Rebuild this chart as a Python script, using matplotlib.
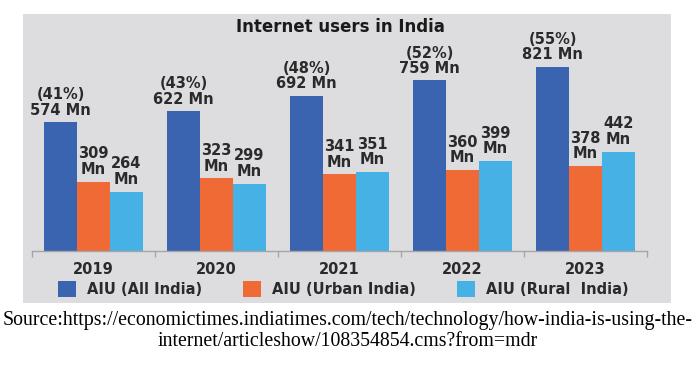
import matplotlib
matplotlib.use("Agg")
import matplotlib.pyplot as plt
from matplotlib.patches import Rectangle
import numpy as np

years = ["2019", "2020", "2021", "2022", "2023"]
all_india = [574, 622, 692, 759, 821]
urban = [309, 323, 341, 360, 378]
rural = [264, 299, 351, 399, 442]
share = ["41%", "43%", "48%", "52%", "55%"]
series_names = ["AIU (All India)", "AIU (Urban India)", "AIU (Rural  India)"]

blue = "#3A64B0"
orange = "#EF6A35"
cyan = "#46B1E4"
panel = "#DDDDE0"
ink = "#2A2A2A"

W, H = 695, 368
fig = plt.figure(figsize=(W / 100, H / 100), dpi=100)
fig.patch.set_facecolor("white")

# grey card behind the chart
fig.patches.append(Rectangle((23 / W, 1 - 303 / H), (671 - 23) / W, (303 - 14) / H,
                             transform=fig.transFigure, facecolor=panel,
                             edgecolor="none", zorder=-5))

ax = fig.add_axes([32 / W, 1 - 251 / H, (647 - 32) / W, (251 - 40) / H])
ax.set_facecolor("none")
ax.set_zorder(2)

x = np.arange(len(years))
bw = 33 / 123
b1 = ax.bar(x - bw, all_india, bw, color=blue, label=series_names[0])
b2 = ax.bar(x, urban, bw, color=orange, label=series_names[1])
b3 = ax.bar(x + bw, rural, bw, color=cyan, label=series_names[2])

ax.set_xlim(-0.5, len(years) - 0.5)
ax.set_ylim(0, 939)

lab = dict(ha="center", va="bottom", fontsize=10.5, fontweight="bold",
           color=ink, linespacing=1.05)
for i in range(len(years)):
    ax.annotate("(%s)\n%d Mn" % (share[i], all_india[i]), (x[i] - bw, all_india[i]),
                xytext=(0, 3), textcoords="offset points", **lab)
    ax.annotate("%d\nMn" % urban[i], (x[i], urban[i]),
                xytext=(0, 3.5), textcoords="offset points", **lab)
    ax.annotate("%d\nMn" % rural[i], (x[i] + bw, rural[i]),
                xytext=(0, 3.5), textcoords="offset points", **lab)

for s in ["top", "right", "left"]:
    ax.spines[s].set_visible(False)
ax.spines["bottom"].set_color("#A5A5A8")
ax.spines["bottom"].set_linewidth(1.0)
ax.set_yticks([])
ax.set_xticks(x)
ax.set_xticklabels(years, fontsize=10.5, fontweight="bold", color=ink)
ax.tick_params(axis="x", which="major", length=0, pad=8)
ax.set_xticks(np.arange(-0.5, len(years)), minor=True)
ax.tick_params(axis="x", which="minor", length=4, color="#A5A5A8", width=1.0)

fig.legend(handles=[b1, b2, b3], loc="center left", bbox_to_anchor=(58 / W, 1 - 289 / H),
           ncol=3, frameon=False, prop={"size": 10.5, "weight": "bold"},
           handlelength=1.2, handleheight=1.3, handletextpad=0.8,
           columnspacing=2.8, borderaxespad=0, borderpad=0, labelcolor=ink)

fig.text(340 / W, 1 - 27 / H, "Internet users in India", ha="center", va="center",
         fontsize=12, fontweight="heavy", color="#1A1A1A")

fig.text(0.5, 1 - 321 / H,
         "Source:https://economictimes.indiatimes.com/tech/technology/how-india-is-using-the-",
         ha="center", va="center", fontsize=14.3, family="Liberation Serif", color="black")
fig.text(0.5, 1 - 342 / H, "internet/articleshow/108354854.cms?from=mdr",
         ha="center", va="center", fontsize=14.3, family="Liberation Serif", color="black")

fig.savefig("out.png", dpi=100)
